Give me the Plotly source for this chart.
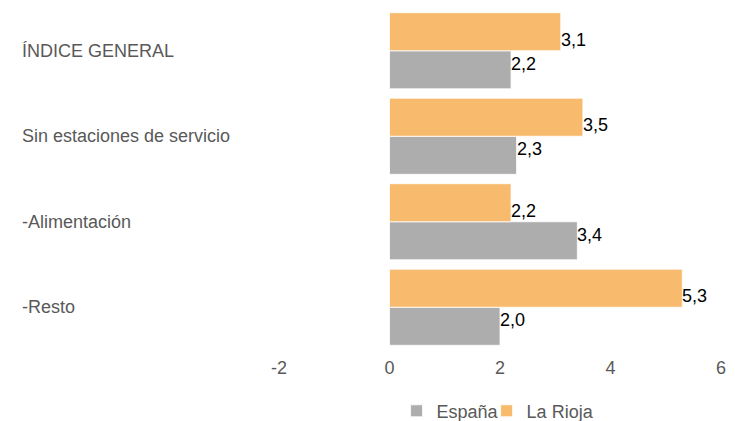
import plotly.graph_objects as go

categories = ["ÍNDICE GENERAL", "Sin estaciones de servicio", "-Alimentación", "-Resto"]
espana = [2.2, 2.3, 3.4, 2.0]
la_rioja = [3.1, 3.5, 2.2, 5.3]
x_ticks = [-2, 0, 2, 4, 6]

GRAY = "#ADADAD"
ORANGE = "#F8BB6E"
TXT = "#595959"
FONT = "Liberation Sans, Arial, sans-serif"
FS = 18

cats_plot = categories[::-1]
esp_plot = espana[::-1]
rio_plot = la_rioja[::-1]

fig = go.Figure()
fig.add_trace(go.Bar(y=cats_plot, x=esp_plot, orientation="h", name="España",
                     marker=dict(color=GRAY, line=dict(color="white", width=0.8)),
                     hoverinfo="x", legend="legend"))
fig.add_trace(go.Bar(y=cats_plot, x=rio_plot, orientation="h", name="La Rioja",
                     marker=dict(color=ORANGE, line=dict(color="white", width=0.8)),
                     hoverinfo="x", legend="legend2"))

def fmt(v):
    return f"{v:.1f}".replace(".", ",")

annotations = []
for c, v in zip(cats_plot, rio_plot):
    annotations.append(dict(x=v, y=c, xref="x", yref="y", text=fmt(v), showarrow=False,
                            xanchor="left", yanchor="middle", yshift=11, xshift=-2,
                            font=dict(family=FONT, size=FS, color="black")))
for c, v in zip(cats_plot, esp_plot):
    annotations.append(dict(x=v, y=c, xref="x", yref="y", text=fmt(v), showarrow=False,
                            xanchor="left", yanchor="middle", yshift=-13, xshift=-2,
                            font=dict(family=FONT, size=FS, color="black")))
for c in cats_plot:
    annotations.append(dict(x=-0.585, y=c, xref="paper", yref="y", text=c, showarrow=False,
                            xanchor="left", yanchor="middle",
                            font=dict(family=FONT, size=FS, color=TXT)))

leg_common = dict(orientation="h", xref="paper", xanchor="left",
                  yref="container", y=0.024, yanchor="middle",
                  font=dict(family=FONT, size=FS, color=TXT), itemwidth=30,
                  bgcolor="rgba(0,0,0,0)")

fig.update_layout(
    width=727, height=413,
    margin=dict(l=271, r=14, t=0, b=71),
    paper_bgcolor="white", plot_bgcolor="white",
    barmode="group", bargap=0.11, bargroupgap=0,
    showlegend=True,
    legend=dict(x=0.266, **leg_common),
    legend2=dict(x=0.4697, **leg_common),
    annotations=annotations,
    font=dict(family=FONT),
)
fig.update_xaxes(range=[-2, 6], tickvals=x_ticks, ticktext=[str(t) for t in x_ticks],
                 showgrid=False, zeroline=False, showline=False, ticks="",
                 ticklabelstandoff=5,
                 tickfont=dict(family=FONT, size=FS, color=TXT))
fig.update_yaxes(categoryorder="array", categoryarray=cats_plot, showticklabels=False,
                 showgrid=False, zeroline=False, showline=False, ticks="")

fig.write_html("out.html")
